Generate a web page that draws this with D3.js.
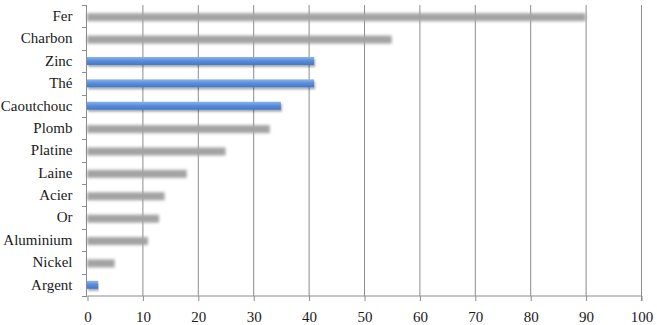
<!DOCTYPE html>
<html><head><meta charset="utf-8">
<script src="https://cdn.jsdelivr.net/npm/d3@7"></script>
<style>body{margin:0;background:#fff}svg{display:block}</style>
</head><body>
<script>
const categories = ["Fer","Charbon","Zinc","Thé","Caoutchouc","Plomb","Platine","Laine","Acier","Or","Aluminium","Nickel","Argent"];
const values = [90,55,41,41,35,33,25,18,14,13,11,5,2];
const highlighted = ["Zinc","Thé","Caoutchouc","Argent"];
const xTicks = [0,10,20,30,40,50,60,70,80,90,100];

const W = 657, H = 325;
const FONT = "'Liberation Serif', 'Times New Roman', Tinos, serif";
const svg = d3.select("body").append("svg").attr("width", W).attr("height", H);
const defs = svg.append("defs");
defs.append("filter").attr("id","blur").attr("x","-5%").attr("y","-80%").attr("width","110%").attr("height","260%")
  .append("feGaussianBlur").attr("stdDeviation","1.5");
const sh = defs.append("filter").attr("id","shadow").attr("x","-5%").attr("y","-60%").attr("width","110%").attr("height","250%");
sh.append("feGaussianBlur").attr("in","SourceAlpha").attr("stdDeviation","1").attr("result","b");
sh.append("feOffset").attr("in","b").attr("dx",1).attr("dy",1.5).attr("result","o");
sh.append("feComponentTransfer").attr("in","o").attr("result","o2").append("feFuncA").attr("type","linear").attr("slope",0.35);
const m = sh.append("feMerge"); m.append("feMergeNode").attr("in","o2"); m.append("feMergeNode").attr("in","SourceGraphic");
const g1 = defs.append("linearGradient").attr("id","blueGrad").attr("x1",0).attr("y1",0).attr("x2",0).attr("y2",1);
g1.append("stop").attr("offset","0%").attr("stop-color","#8db4ee");
g1.append("stop").attr("offset","45%").attr("stop-color","#5b8fdc");
g1.append("stop").attr("offset","100%").attr("stop-color","#4377c8");

const x = d3.scaleLinear().domain([0,100]).range([87,641]);
const y = d3.scaleBand().domain(categories).range([5,296]);

// gridlines
svg.append("g").selectAll("line").data(xTicks.slice(1)).join("line")
  .attr("x1", d => x(d) + 0.5).attr("x2", d => x(d) + 0.5).attr("y1", 5).attr("y2", 296)
  .attr("stroke","#8c8c8c").attr("stroke-width",1);

// bars
const barH = 8;
svg.append("g").selectAll("rect").data(categories).join("rect")
  .attr("x", x(0))
  .attr("y", d => y(d) + y.bandwidth()/2 - barH/2 + (highlighted.includes(d) ? 0 : 1))
  .attr("width", (d,i) => x(values[i]) - x(0))
  .attr("height", barH)
  .attr("fill", d => highlighted.includes(d) ? "url(#blueGrad)" : "#a3a3a3")
  .attr("filter", d => highlighted.includes(d) ? "url(#shadow)" : "url(#blur)");

// x axis
const xAxis = svg.append("g").attr("transform","translate(0.5,296)")
  .call(d3.axisBottom(x).tickValues(xTicks).tickSize(5).tickPadding(10).tickFormat(d3.format("d")));
// y axis
const yAxis = svg.append("g").attr("transform","translate(86.5,0)")
  .call(d3.axisLeft(y).tickSize(0).tickPadding(14));
// y axis ticks at band boundaries
svg.append("g").selectAll("line").data(categories.concat(["_end"])).join("line")
  .attr("x1",82).attr("x2",87)
  .attr("y1",(d,i)=> Math.round(5 + i*y.step()) + 0.5).attr("y2",(d,i)=> Math.round(5 + i*y.step()) + 0.5)
  .attr("stroke","#8c8c8c");

svg.selectAll(".domain").attr("stroke","#8c8c8c").attr("stroke-width",1);
xAxis.selectAll(".tick line").attr("stroke","#8c8c8c");
xAxis.select(".domain").attr("d","M87,0H641V5");
yAxis.select(".domain").attr("d","M0,5V296");
[xAxis, yAxis].forEach(a => a.attr("font-family", FONT).attr("font-size", 15));
svg.selectAll(".tick text").style("font-family", FONT).style("font-size", "15px").attr("fill", "#1a1a1a");
</script>
</body></html>
